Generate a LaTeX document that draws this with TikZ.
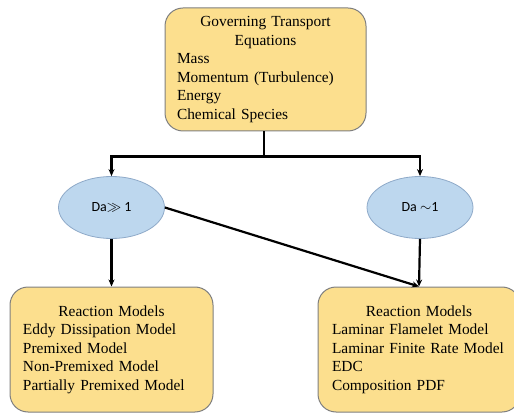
\documentclass[tikz,border=0pt]{standalone}
\usepackage{fontspec}
\setmainfont{Liberation Serif}
\newfontfamily\ovalfont{Carlito}
\usetikzlibrary{arrows.meta, shapes.geometric, calc}

\definecolor{boxfill}{HTML}{FCDF8E}
\definecolor{boxline}{HTML}{7F7F7F}
\definecolor{ovalfill}{HTML}{BDD7EE}
\definecolor{ovalline}{HTML}{8EA9C8}

\newcommand{\boxtitle}[1]{\makebox[\linewidth][c]{#1}}

\begin{document}
\begin{tikzpicture}[
            x=1pt,
            y=-1pt,
            >={Stealth[length=7pt,width=6pt]},
            modelbox/.style={draw=boxline, fill=boxfill, line width=1pt,
                rounded corners=18pt, inner sep=0pt, align=left,
                font=\fontsize{15.4}{18.5}\selectfont},
            regime/.style={ellipse, draw=ovalline, fill=ovalfill, line width=0.8pt,
                minimum width=106pt, minimum height=62pt, inner sep=0pt,
                font=\ovalfont\fontsize{14}{16}\selectfont},
            flow/.style={->, line width=2.2pt}
        ]

            % --- Frame ---
            \clip (0,0) rectangle (514,414);
            \useasboundingbox (0,0) rectangle (514,414);

            % --- Transport equations ---
            \node[modelbox, text width=177pt, minimum width=201pt, minimum height=123pt]
                (gov) at (265.5,69.5)
                {\boxtitle{Governing Transport}\\ \boxtitle{Equations}\\
                 Mass\\ Momentum (Turbulence)\\ Energy\\ Chemical Species};

            % --- Damkoehler regimes ---
            \node[regime] (fast)  at (111.5,207.5) {Da$\gg$ 1};
            \node[regime] (mixed) at (420,207.5)   {Da $\sim$1};

            % --- Reaction models ---
            \node[modelbox, text width=177pt, minimum width=203pt, minimum height=125pt]
                (fastmodels) at (111.5,349.5)
                {\boxtitle{Reaction Models}\\ Eddy Dissipation Model\\ Premixed Model\\
                 Non-Premixed Model\\ Partially Premixed Model};
            \node[modelbox, text width=174pt, minimum width=202pt, minimum height=125pt]
                (finitemodels) at (419,349.5)
                {\boxtitle{Reaction Models}\\ Laminar Flamelet Model\\ Laminar Finite Rate Model\\
                 EDC\\ Composition PDF};

            % --- Connectors ---
            \coordinate (split) at ($(gov.south)+(-1.5,25)$);
            \draw[line width=2.2pt] (split |- gov.south) -- (split);
            \draw[flow] (split) -| (fast.north);
            \draw[flow] (split) -| (mixed.north);
            \draw[flow] (fast.south) -- (fastmodels.north);
            \draw[flow] (mixed.south) -- (finitemodels.north);
            \draw[flow] (fast.east) -- (finitemodels.north);

        \end{tikzpicture}
\end{document}
